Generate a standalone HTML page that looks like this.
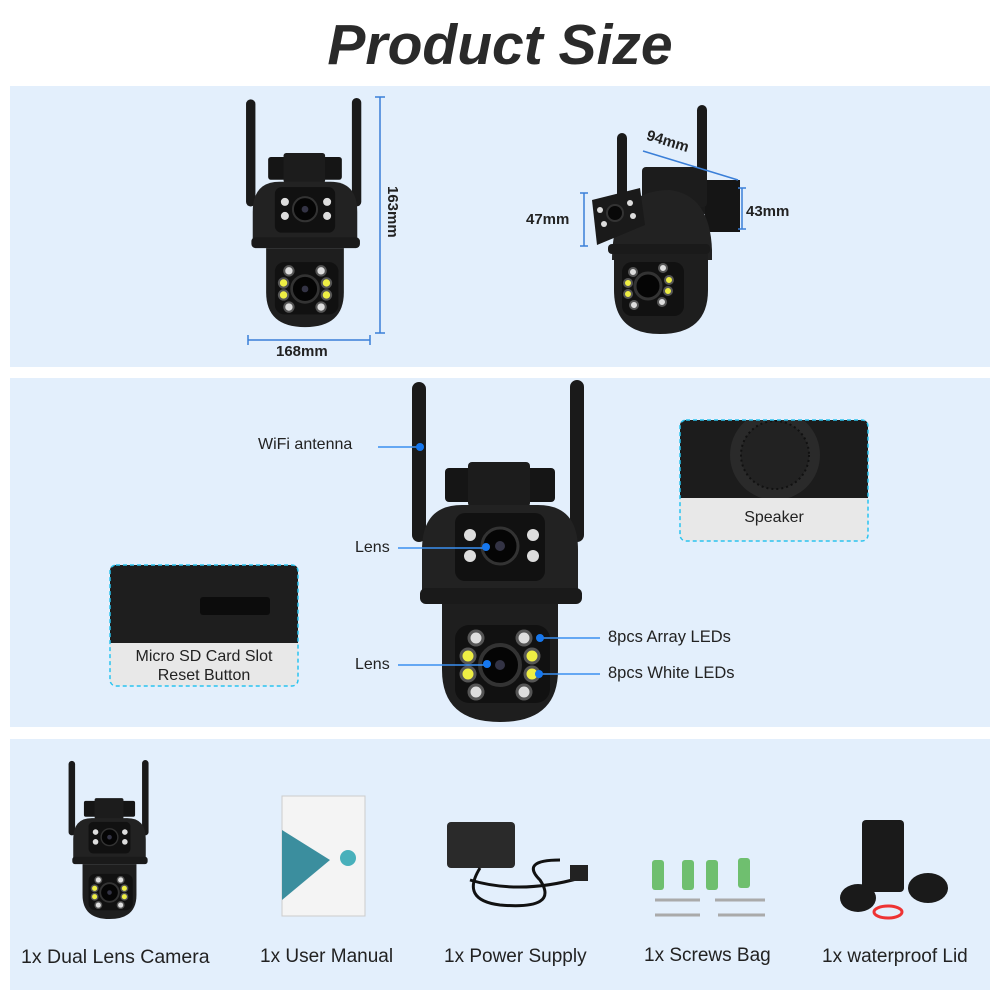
<!DOCTYPE html>
<html><head><meta charset="utf-8"><style>
body{margin:0;width:1000px;height:1000px;background:#fff;font-family:"Liberation Sans",sans-serif;position:relative;overflow:hidden}
.t{position:absolute;color:#222;white-space:nowrap}
.p{position:absolute;background:#e3effc}
</style></head><body>
<svg width="0" height="0" style="position:absolute">
<defs>
<g id="cam">
<rect x="12" y="2" width="14" height="160" rx="7" fill="#1a1a1a"/>
<rect x="170" y="0" width="14" height="162" rx="7" fill="#1a1a1a"/>
<rect x="45" y="88" width="110" height="34" rx="4" fill="#151515"/>
<rect x="68" y="82" width="62" height="45" rx="4" fill="#1c1c1c"/>
<path d="M22 215 V170 Q22 125 62 125 H138 Q178 125 178 170 V215 Z" fill="#222"/>
<rect x="55" y="133" width="90" height="68" rx="10" fill="#111"/>
<circle cx="100" cy="166" r="18" fill="#050505" stroke="#333" stroke-width="3"/>
<circle cx="100" cy="166" r="5" fill="#334"/>
<circle cx="70" cy="155" r="6" fill="#ddd"/><circle cx="70" cy="176" r="6" fill="#ddd"/>
<circle cx="133" cy="155" r="6" fill="#ddd"/><circle cx="133" cy="176" r="6" fill="#ddd"/>
<rect x="20" y="208" width="162" height="16" rx="6" fill="#1a1a1a"/>
<path d="M42 224 H158 V290 Q158 342 100 342 Q42 342 42 290 Z" fill="#1e1e1e"/>
<rect x="55" y="245" width="95" height="78" rx="14" fill="#111"/>
<circle cx="100" cy="285" r="20" fill="#050505" stroke="#333" stroke-width="4"/>
<circle cx="100" cy="285" r="5" fill="#334"/>
<g stroke="#555" stroke-width="3">
<circle cx="76" cy="258" r="7" fill="#ddd"/><circle cx="68" cy="276" r="7" fill="#ee4"/>
<circle cx="68" cy="294" r="7" fill="#ee4"/><circle cx="76" cy="312" r="7" fill="#ddd"/>
<circle cx="124" cy="258" r="7" fill="#ddd"/><circle cx="132" cy="276" r="7" fill="#ee4"/>
<circle cx="132" cy="294" r="7" fill="#ee4"/><circle cx="124" cy="312" r="7" fill="#ddd"/>
</g>
</g>
<clipPath id="spk"><rect x="680" y="420" width="188" height="78"/></clipPath>
</defs></svg>

<div class="t" style="left:0;width:1000px;top:12px;text-align:center;font-size:57px;font-weight:bold;font-style:italic;color:#2a2a2a">Product Size</div>

<div class="p" style="left:10px;top:86px;width:980px;height:281px"></div>
<div class="p" style="left:10px;top:378px;width:980px;height:349px"></div>
<div class="p" style="left:10px;top:739px;width:980px;height:251px"></div>

<svg style="position:absolute;left:0;top:0" width="1000" height="1000">
<use href="#cam" transform="translate(238,98) scale(0.67)"/>
<g stroke="#3a7fd8" stroke-width="1.5">
<line x1="380" y1="97" x2="380" y2="333"/><line x1="375" y1="97" x2="385" y2="97"/><line x1="375" y1="333" x2="385" y2="333"/>
<line x1="248" y1="340" x2="370" y2="340"/><line x1="248" y1="335" x2="248" y2="345"/><line x1="370" y1="335" x2="370" y2="345"/>
</g>
<g>
<rect x="617" y="133" width="10" height="75" rx="5" fill="#1a1a1a"/>
<rect x="697" y="105" width="10" height="110" rx="5" fill="#1a1a1a"/>
<rect x="705" y="180" width="35" height="52" fill="#151515"/>
<rect x="642" y="167" width="65" height="40" rx="4" fill="#1c1c1c"/>
<path d="M612 260 Q612 190 670 190 Q710 195 712 250 L712 260 Z" fill="#222"/>
<polygon points="592,200 640,188 645,225 597,245" fill="#1a1a1a"/>
<circle cx="615" cy="213" r="8" fill="#080808" stroke="#333" stroke-width="2"/>
<circle cx="600" cy="210" r="3" fill="#ddd"/><circle cx="604" cy="224" r="3" fill="#ddd"/>
<circle cx="630" cy="203" r="3" fill="#ddd"/><circle cx="633" cy="216" r="3" fill="#ddd"/>
<rect x="608" y="244" width="102" height="10" rx="4" fill="#1a1a1a"/>
<path d="M614 254 H708 V290 Q708 334 660 334 Q614 334 614 290 Z" fill="#1e1e1e"/>
<rect x="622" y="262" width="62" height="54" rx="10" fill="#111"/>
<circle cx="648" cy="286" r="13" fill="#050505" stroke="#333" stroke-width="3"/>
<g stroke="#555" stroke-width="2"><circle cx="633" cy="272" r="4" fill="#ddd"/><circle cx="628" cy="283" r="4" fill="#ee4"/><circle cx="628" cy="294" r="4" fill="#ee4"/><circle cx="634" cy="305" r="4" fill="#ddd"/>
<circle cx="663" cy="268" r="4" fill="#ddd"/><circle cx="669" cy="280" r="4" fill="#ee4"/><circle cx="668" cy="291" r="4" fill="#ee4"/><circle cx="662" cy="302" r="4" fill="#ddd"/></g>
</g>
<g stroke="#3a7fd8" stroke-width="1.5">
<line x1="643" y1="151" x2="738" y2="180"/>
<line x1="584" y1="193" x2="584" y2="246"/><line x1="580" y1="193" x2="588" y2="193"/><line x1="580" y1="246" x2="588" y2="246"/>
<line x1="742" y1="188" x2="742" y2="229"/><line x1="738" y1="188" x2="746" y2="188"/><line x1="738" y1="229" x2="746" y2="229"/>
</g>
<use href="#cam" transform="translate(400,380)"/>
<g stroke="#3a8ff0" stroke-width="1.5">
<line x1="378" y1="447" x2="420" y2="447"/>
<line x1="398" y1="548" x2="486" y2="548"/>
<line x1="398" y1="665" x2="486" y2="665"/>
<line x1="540" y1="638" x2="600" y2="638"/>
<line x1="540" y1="674" x2="600" y2="674"/>
</g>
<g fill="#1677ee"><circle cx="420" cy="447" r="4"/><circle cx="486" cy="547" r="4"/><circle cx="487" cy="664" r="4"/><circle cx="540" cy="638" r="4"/><circle cx="539" cy="674" r="4"/></g>
<rect x="680" y="420" width="188" height="121" rx="6" fill="#e8e8e8"/>
<path d="M686 420 H862 Q868 420 868 426 V498 H680 V426 Q680 420 686 420Z" fill="#1c1c1c"/>
<g clip-path="url(#spk)">
<circle cx="775" cy="455" r="45" fill="#2a2a2a"/>
<circle cx="775" cy="455" r="34" fill="#222" stroke="#111" stroke-width="2" stroke-dasharray="2 3"/>
</g>
<rect x="680" y="420" width="188" height="121" rx="6" fill="none" stroke="#2bc4ef" stroke-width="1.5" stroke-dasharray="4 3"/>
<rect x="110" y="565" width="188" height="121" rx="6" fill="#e8e8e8"/>
<path d="M116 565 H292 Q298 565 298 571 V643 H110 V571 Q110 565 116 565Z" fill="#1e1e1e"/>
<rect x="200" y="597" width="70" height="18" rx="3" fill="#0c0c0c"/>
<rect x="110" y="565" width="188" height="121" rx="6" fill="none" stroke="#2bc4ef" stroke-width="1.5" stroke-dasharray="4 3"/>
<use href="#cam" transform="translate(63,760) scale(0.465)"/>
<rect x="282" y="796" width="83" height="120" fill="#f4f4f4" stroke="#ccc"/>
<polygon points="282,830 330,860 282,900" fill="#3b8e9e"/>
<circle cx="348" cy="858" r="8" fill="#48b0bb"/>
<rect x="447" y="822" width="68" height="46" rx="4" fill="#2a2a2a"/>
<path d="M480 868 Q460 900 500 905 Q560 910 540 880 Q520 860 560 860" fill="none" stroke="#111" stroke-width="3"/>
<path d="M470 880 Q520 895 580 878" fill="none" stroke="#111" stroke-width="3"/>
<rect x="570" y="865" width="18" height="16" fill="#222"/>
<g fill="#6fbf6f"><rect x="652" y="860" width="12" height="30" rx="3"/><rect x="682" y="860" width="12" height="30" rx="3"/><rect x="706" y="860" width="12" height="30" rx="3"/><rect x="738" y="858" width="12" height="30" rx="3"/></g>
<g stroke="#aaa" stroke-width="3"><line x1="655" y1="900" x2="700" y2="900"/><line x1="715" y1="900" x2="765" y2="900"/><line x1="655" y1="915" x2="700" y2="915"/><line x1="718" y1="915" x2="765" y2="915"/></g>
<rect x="862" y="820" width="42" height="72" rx="4" fill="#1a1a1a"/>
<ellipse cx="858" cy="898" rx="18" ry="14" fill="#1a1a1a"/>
<ellipse cx="928" cy="888" rx="20" ry="15" fill="#1a1a1a"/>
<ellipse cx="888" cy="912" rx="14" ry="6" fill="none" stroke="#e33" stroke-width="3"/>
</svg>

<div class="t" style="top:186px;font-size:15px;transform:rotate(90deg);transform-origin:left top;left:401px;font-weight:bold">163mm</div>
<div class="t" style="left:276px;top:343px;font-size:15px;font-weight:bold">168mm</div>
<div class="t" style="left:646px;top:133px;font-size:15px;font-weight:bold;transform:rotate(17deg)">94mm</div>
<div class="t" style="left:526px;top:211px;font-size:15px;font-weight:bold">47mm</div>
<div class="t" style="left:746px;top:203px;font-size:15px;font-weight:bold">43mm</div>

<div class="t" style="left:258px;top:436px;font-size:16px">WiFi antenna</div>
<div class="t" style="left:355px;top:539px;font-size:16px">Lens</div>
<div class="t" style="left:355px;top:656px;font-size:16px">Lens</div>
<div class="t" style="left:608px;top:628px;font-size:16.5px">8pcs Array LEDs</div>
<div class="t" style="left:608px;top:664px;font-size:16.5px">8pcs White LEDs</div>
<div class="t" style="left:680px;width:188px;top:509px;text-align:center;font-size:16px">Speaker</div>
<div class="t" style="left:110px;width:188px;top:647px;text-align:center;font-size:16px;line-height:19px">Micro SD Card Slot<br>Reset Button</div>

<div class="t" style="left:21px;top:946px;font-size:19.5px">1x Dual Lens Camera</div>
<div class="t" style="left:260px;top:946px;font-size:19px">1x User Manual</div>
<div class="t" style="left:444px;top:946px;font-size:19px">1x Power Supply</div>
<div class="t" style="left:644px;top:945px;font-size:19px">1x Screws Bag</div>
<div class="t" style="left:822px;top:946px;font-size:19px">1x waterproof Lid</div>
</body></html>
